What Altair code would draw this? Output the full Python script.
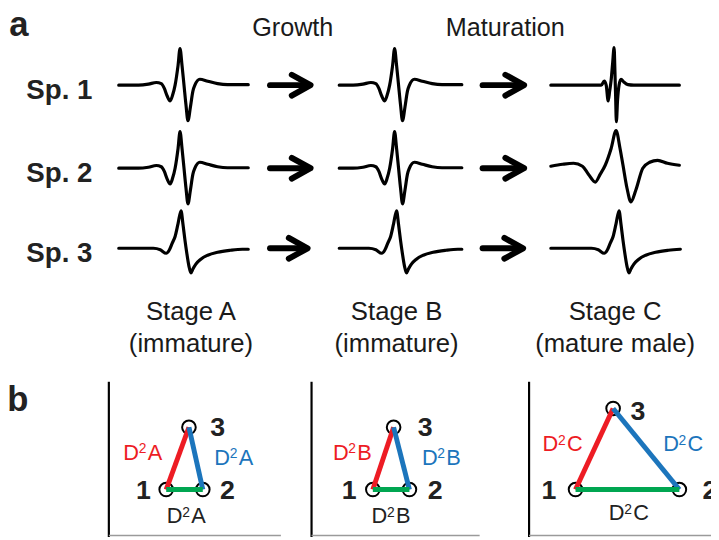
import altair as alt
import pandas as pd

# ---------------- values ----------------
SPECIES = ["Sp. 1", "Sp. 2", "Sp. 3"]
STAGES = ["Stage A", "Stage B", "Stage C"]
STAGE_NOTES = ["(immature)", "(immature)", "(mature male)"]
TRANSITIONS = ["Growth", "Maturation"]
PANEL_LETTERS = ["a", "b"]
NODE_NAMES = ["1", "2", "3"]
DISTANCE_BASE = "D"
DISTANCE_POWER = "2"
DISTANCE_STAGE = ["A", "B", "C"]
EDGES = ["1-3", "2-3", "1-2"]

# waveform templates: time offset from the main peak (px) and amplitude (px above baseline)
BIPHASIC_T = [-42, -32, -24, -19, -16, -13, -10, -7.5, -5, -2, 0, 2, 4, 6, 8, 10.5, 13, 15, 20, 28, 38, 48]
BIPHASIC_A = [0, 1, 2.7, 1.5, -3, -11, -16, -10, 0, 20, 37, 20, 0, -20, -36, -22, -6, 0, 6, 4, 1.5, 0.5]

MONO_T = [-28, -21, -15, -12, -9, -6, -3, 0, 2, 4, 6, 8, 10, 12, 15, 20, 27, 37, 50, 62]
MONO_A = [0, -1.5, -5, -2, 5, 12, 25, 38, 24, 8, -6, -18, -25, -21, -16, -11, -7, -4, -2, -1]

SHARP_T = [-13, -10, -8, -6, -4.5, -3, -1.5, 0, 0.8, 1.5, 2.3, 3.5, 5, 7, 10, 14, 20]
SHARP_A = [0, 4, 0, -16, -6, 5, 22, 38, 15, -10, -37, -15, 0, 6, 3, 0.5, 0]

WIDE_T = [-66, -54, -43, -34, -28, -21, -16, -11, -5, 0, 4, 7, 11, 15, 20, 27, 34, 42, 52, 64]
WIDE_A = [2, 4, 5, 2, -6, -14, -6, 3, 20, 38, 20, 3, -20, -34, -22, 0, 6, 8, 5, 3]

TEMPLATES = {
    "biphasic": (BIPHASIC_T, BIPHASIC_A),
    "mono": (MONO_T, MONO_A),
    "sharp": (SHARP_T, SHARP_A),
    "wide": (WIDE_T, WIDE_A),
}
WAVE_TEMPLATE = [
    ["biphasic", "biphasic", "sharp"],
    ["biphasic", "biphasic", "wide"],
    ["mono", "mono", "mono"],
]

# ---------------- layout (image pixels) ----------------
ROW_Y = [83, 167, 248]
COL_X0 = [120, 343, 557]
COL_X1 = [251, 467, 687]
PEAK_X = [[182, 399, 621], [182, 399, 623], [183, 401, 626]]
ARROW_X0 = [[273, 488], [273, 488], [273, 488]]
ARROW_X1 = [[314, 530], [314, 530], [311, 529]]
TRANSITION_X = [296, 511]
STAGE_X = [193, 401, 622]

PANEL_X = [110, 315, 535]
PANEL_RIGHT = [284, 485, 719]
PANEL_TOP, PANEL_BOTTOM = 383, 540
NODE_X = [[168, 205, 191], [377, 414, 398], [582, 687, 620]]
NODE_Y = [[492, 492, 429], [492, 492, 429], [492, 492, 410]]
NODE_LABEL_X = [[145, 230, 220], [353, 440, 430], [555, 718, 645]]
NODE_LABEL_Y = [[502, 502, 438], [502, 502, 438], [502, 502, 422]]
EDGE_LABEL_X = [[145, 237, 189], [357, 447, 396], [569, 691, 636]]
EDGE_LABEL_Y = [[462, 467, 526], [462, 467, 526], [453, 453, 523]]

FONT = "Liberation Sans"
TXT = "#1a1a1a"
RED, BLUE, GREEN = "#ed1c24", "#1c75bc", "#00a651"
LABEL_SIZE, SUP_SIZE = 22, 14
XS = alt.Scale(domain=[8, 719], nice=False, zero=False)
YS = alt.Scale(domain=[8, 540], nice=False, zero=False, reverse=True)


def X(f="x"):
    return alt.X(f"{f}:Q", scale=XS, axis=None)


def Y(f="y"):
    return alt.Y(f"{f}:Q", scale=YS, axis=None)


# ---- waveforms ----
rows = []
for r in range(3):
    for c in range(3):
        t, a = TEMPLATES[WAVE_TEMPLATE[r][c]]
        cell = f"{SPECIES[r]}|{STAGES[c]}"
        pk = PEAK_X[r][c]
        pts = [(COL_X0[c], a[0])] + [(pk + ti, ai) for ti, ai in zip(t, a)] + [(COL_X1[c], a[-1])]
        pts = [p for i, p in enumerate(pts) if i == 0 or p[0] > pts[i - 1][0]]
        for i, (x, amp) in enumerate(pts):
            rows.append({"cell": cell, "x": x, "y": ROW_Y[r] - amp, "o": i})
waves = pd.DataFrame(rows)

wave_layer = alt.Chart(waves).mark_line(
    color="black", strokeWidth=3.2, interpolate="monotone", strokeCap="round", strokeJoin="round"
).encode(x=X(), y=Y(), detail="cell:N", order="o:Q")

# ---- arrows ----
arows = []
for r in range(3):
    for k in range(2):
        y0 = ROW_Y[r]
        x0, x1 = ARROW_X0[r][k], ARROW_X1[r][k]
        sid = f"s{r}{k}"
        hid = f"h{r}{k}"
        arows += [
            {"id": sid, "x": x0, "y": y0, "o": 0},
            {"id": sid, "x": x1 - 3, "y": y0, "o": 1},
            {"id": hid, "x": x1 - 19, "y": y0 - 10.5, "o": 0},
            {"id": hid, "x": x1, "y": y0, "o": 1},
            {"id": hid, "x": x1 - 19, "y": y0 + 10.5, "o": 2},
        ]
arrows = pd.DataFrame(arows)
arrow_layer = alt.Chart(arrows).mark_line(
    color="black", strokeWidth=6, strokeCap="round", strokeJoin="round"
).encode(x=X(), y=Y(), detail="id:N", order="o:Q")


def text_layer(df, size, weight="normal", color=TXT):
    return alt.Chart(df).mark_text(
        fontSize=size, fontWeight=weight, color=color, align="center",
        baseline="alphabetic", font=FONT
    ).encode(x=X(), y=Y(), text="label:N")


letters = pd.DataFrame({"label": PANEL_LETTERS, "x": [19, 18], "y": [33, 413]})
trans = pd.DataFrame({"label": TRANSITIONS, "x": TRANSITION_X, "y": [33, 33]})
species = pd.DataFrame({"label": SPECIES, "x": [60, 60, 60], "y": [ry + 14 for ry in ROW_Y]})
stages = pd.DataFrame({"label": STAGES, "x": STAGE_X, "y": [321] * 3})
notes = pd.DataFrame({"label": STAGE_NOTES, "x": STAGE_X, "y": [353] * 3})

# ---- bottom panels ----
axes_v = pd.DataFrame({"x": PANEL_X, "y": [PANEL_TOP] * 3, "y2": [PANEL_BOTTOM] * 3})
axes_h = pd.DataFrame({"x": PANEL_X, "x2": PANEL_RIGHT, "y": [538.5] * 3})

vrule = alt.Chart(axes_v).mark_rule(color="black", strokeWidth=2.2).encode(
    x=X(), y=Y(), y2="y2:Q")
hrule = alt.Chart(axes_h).mark_rule(color="#9a9a9a", strokeWidth=1.6).encode(
    x=X(), x2="x2:Q", y=Y())

nodes_rows, nlab_rows, edge_rows, elab_rows = [], [], [], []
for p in range(3):
    for n in range(3):
        nodes_rows.append({"x": NODE_X[p][n], "y": NODE_Y[p][n]})
        nlab_rows.append({"label": NODE_NAMES[n], "x": NODE_LABEL_X[p][n], "y": NODE_LABEL_Y[p][n]})
    for e, edge in enumerate(EDGES):
        a_, b_ = [int(s) - 1 for s in edge.split("-")]
        edge_rows.append({"edge": edge, "x": NODE_X[p][a_], "y": NODE_Y[p][a_],
                          "x2": NODE_X[p][b_], "y2": NODE_Y[p][b_]})
        cx, by = EDGE_LABEL_X[p][e], EDGE_LABEL_Y[p][e]
        key = f"{p}{e}"
        # "D" right-aligned, superscript "2", stage letter left-aligned
        elab_rows += [
            {"edge": edge, "key": key, "part": "base", "label": DISTANCE_BASE,
             "x": cx - 4.5, "y": by, "fs": LABEL_SIZE},
            {"edge": edge, "key": key, "part": "sup", "label": DISTANCE_POWER,
             "x": cx - 4.8, "y": by - 6.5, "fs": SUP_SIZE},
            {"edge": edge, "key": key, "part": "stage", "label": DISTANCE_STAGE[p],
             "x": cx + 4.3, "y": by, "fs": LABEL_SIZE},
        ]

nodes = pd.DataFrame(nodes_rows)
node_layer = alt.Chart(nodes).mark_point(
    shape="circle", size=190, filled=True, fill="white", stroke="black", strokeWidth=2, opacity=1
).encode(x=X(), y=Y())

edge_layer = alt.Chart(pd.DataFrame(edge_rows)).mark_rule(strokeWidth=5).encode(
    x=X(), y=Y(), x2="x2:Q", y2="y2:Q",
    color=alt.Color("edge:N", scale=alt.Scale(domain=EDGES, range=[RED, BLUE, GREEN]),
                    legend=None))

elab = pd.DataFrame(elab_rows)
label_color = alt.Color("edge:N", scale=alt.Scale(domain=EDGES, range=[RED, BLUE, "#222222"]),
                        legend=None)


def elab_part(part, align):
    return alt.Chart(elab).transform_filter(alt.datum.part == part).mark_text(
        align=align, baseline="alphabetic", font=FONT
    ).encode(
        x=X(), y=Y(), text="label:N", color=label_color,
        size=alt.Size("fs:Q", scale=None, legend=None))


chart = alt.layer(
    wave_layer,
    arrow_layer,
    text_layer(letters, 35, "bold", "#222"),
    text_layer(trans, 25.5),
    text_layer(species, 28, "bold", "#222"),
    text_layer(stages, 26),
    text_layer(notes, 26),
    vrule,
    hrule,
    node_layer,
    edge_layer,
    text_layer(pd.DataFrame(nlab_rows), 27, "bold", "#222"),
    elab_part("base", "right"),
    elab_part("sup", "left"),
    elab_part("stage", "left"),
).resolve_scale(color="independent").properties(
    width=711, height=532,
    autosize=alt.AutoSizeParams(type="none"),
    padding=0,
).configure_view(stroke=None)

chart.save("out.html", embed_options={"renderer": "svg", "actions": False})
